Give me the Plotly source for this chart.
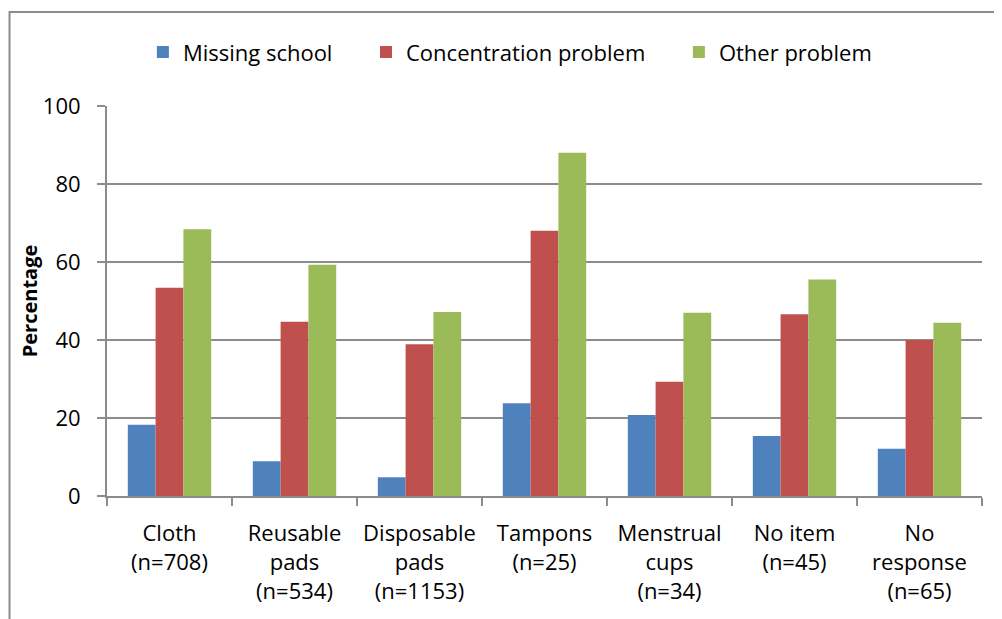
import plotly.graph_objects as go

categories = [
    "Cloth<br>(n=708)",
    "Reusable<br>pads<br>(n=534)",
    "Disposable<br>pads<br>(n=1153)",
    "Tampons<br>(n=25)",
    "Menstrual<br>cups<br>(n=34)",
    "No item<br>(n=45)",
    "No<br>response<br>(n=65)",
]
missing_school = [18.3, 8.9, 4.8, 23.8, 20.8, 15.4, 12.1]
concentration_problem = [53.4, 44.7, 38.9, 68.0, 29.3, 46.6, 40.0]
other_problem = [68.4, 59.3, 47.2, 88.0, 47.0, 55.5, 44.4]
y_ticks = [0, 20, 40, 60, 80, 100]

FONT = "Open Sans"
GRID = "#8c8c8c"
PAD = "\u00a0" * 5

fig = go.Figure()
fig.add_trace(go.Bar(x=categories, y=missing_school, name="Missing school" + PAD,
                     marker=dict(color="#4F81BD", line=dict(width=0))))
fig.add_trace(go.Bar(x=categories, y=concentration_problem, name="Concentration problem" + PAD,
                     marker=dict(color="#C0504D", line=dict(width=0))))
fig.add_trace(go.Bar(x=categories, y=other_problem, name="Other problem",
                     marker=dict(color="#9BBB59", line=dict(width=0))))

fig.update_layout(
    width=994, height=611,
    margin=dict(l=99, r=20, t=98, b=123, autoexpand=False),
    paper_bgcolor="white", plot_bgcolor="white",
    font=dict(family=FONT, size=22, color="black"),
    barmode="group", bargap=0.333, bargroupgap=0,
    showlegend=True,
    legend=dict(orientation="h", x=0.041, xanchor="left", y=1.138, yanchor="middle",
                font=dict(family=FONT, size=22, color="black"),
                itemwidth=30, traceorder="normal"),
    shapes=[dict(type="rect", xref="paper", yref="paper",
                 x0=-0.1114, x1=1.1, y0=-0.35, y1=1.241,
                 line=dict(color=GRID, width=2), fillcolor="rgba(0,0,0,0)", layer="below")],
)
fig.update_yaxes(range=[0, 100], tickvals=y_ticks, showgrid=True, gridcolor=GRID, gridwidth=2,
                 showline=True, linecolor=GRID, linewidth=2,
                 ticks="outside", ticklen=8, tickcolor=GRID, tickwidth=2,
                 ticklabelstandoff=12,
                 title=dict(text="<b>Percentage</b>", font=dict(family=FONT, size=20), standoff=0),
                 zeroline=False)
fig.update_xaxes(showline=True, linecolor=GRID, linewidth=2,
                 ticks="outside", ticklen=8, tickcolor=GRID, tickwidth=2,
                 tickson="boundaries", ticklabelstandoff=17, tickangle=0)

fig.write_html("out.html")
